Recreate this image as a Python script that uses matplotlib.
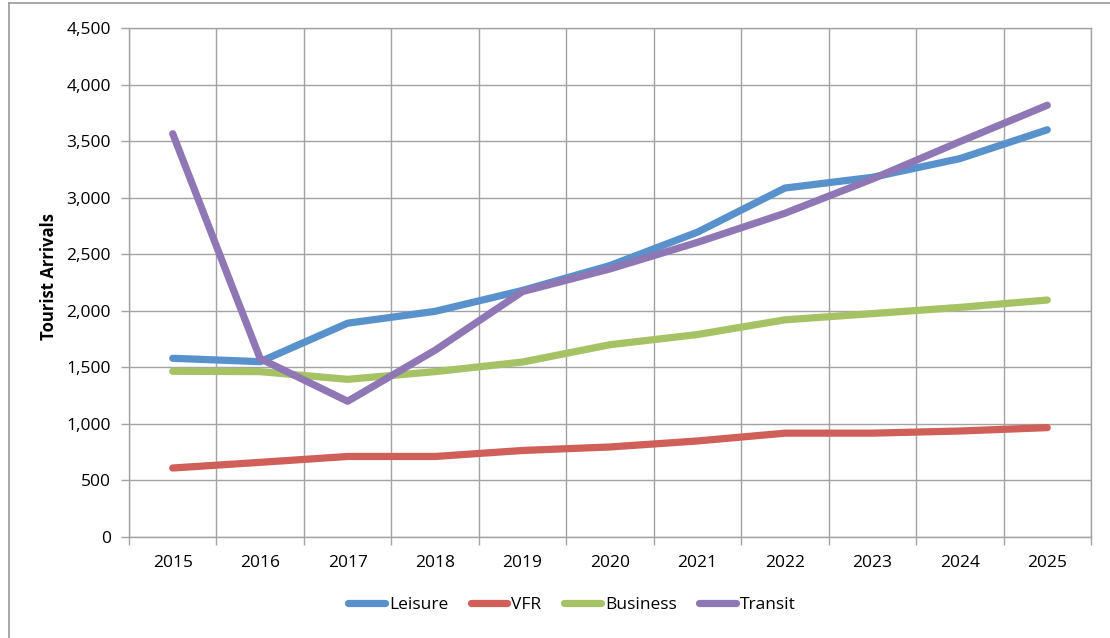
import matplotlib
matplotlib.use("Agg")
import matplotlib.pyplot as plt
from matplotlib.lines import Line2D
from matplotlib.ticker import FuncFormatter, MultipleLocator, FixedLocator

years = ["2015", "2016", "2017", "2018", "2019", "2020", "2021", "2022", "2023", "2024", "2025"]
leisure = [1580, 1550, 1890, 1995, 2180, 2400, 2695, 3085, 3180, 3345, 3600]
vfr = [610, 660, 712, 712, 765, 796, 849, 918, 918, 937, 967]
business = [1465, 1462, 1394, 1462, 1547, 1700, 1790, 1920, 1975, 2030, 2095]
transit = [3565, 1577, 1200, 1651, 2170, 2370, 2605, 2862, 3165, 3495, 3817]

series_names = ["Leisure", "VFR", "Business", "Transit"]
colors = ["#5891CB", "#CF5F58", "#A5C264", "#8F77B5"]

plt.rcParams['font.family'] = ['Open Sans', 'DejaVu Sans']
FS = 12.5

fig = plt.figure(figsize=(11.1, 6.38), dpi=100)
ax = fig.add_axes([129/1110, 1 - 537/638, (1091-129)/1110, (537-28)/638])

x = list(range(len(years)))
for name, vals, c in zip(series_names, [leisure, vfr, business, transit], colors):
    ax.plot(x, vals, color=c, lw=5.2, solid_capstyle='round', solid_joinstyle='round', label=name)

grid_c = "#A3A3A3"
ax.set_xlim(-0.5, len(years) - 0.5)
ax.set_ylim(0, 4500)
ax.yaxis.set_major_locator(MultipleLocator(500))
ax.yaxis.set_major_formatter(FuncFormatter(lambda v, p: f"{int(v):,}"))
ax.set_xticks(x)
ax.set_xticklabels(years)
ax.xaxis.set_minor_locator(FixedLocator([i - 0.5 for i in range(len(years) + 1)]))
ax.tick_params(axis='x', which='major', length=0, pad=13, labelsize=FS)
ax.tick_params(axis='x', which='minor', length=6, width=1, color=grid_c, direction='out')
ax.tick_params(axis='y', which='major', length=6, width=1, color=grid_c, pad=7, labelsize=FS)
ax.grid(True, axis='y', which='major', color=grid_c, lw=1)
ax.grid(True, axis='x', which='minor', color=grid_c, lw=1)
ax.grid(False, axis='x', which='major')
for s in ax.spines.values():
    s.set_color(grid_c)
    s.set_linewidth(1)

ax.set_ylabel("Tourist Arrivals", fontsize=12, fontweight='bold')
ax.yaxis.label.set_va('center')
ax.yaxis.set_label_coords((49 - 129) / 962, (537 - 277) / 509)

leg = fig.legend(loc='center', bbox_to_anchor=(572/1110, 1 - 605/638), ncol=4, frameon=False,
                 fontsize=FS, handlelength=2.1, handletextpad=0.25, columnspacing=1.3)

# outer chart border (left and top visible)
fig.add_artist(Line2D([8.5/1110, 8.5/1110], [0, 1 - 2.5/638], transform=fig.transFigure, color="#9A9A9A", lw=1.2))
fig.add_artist(Line2D([8.5/1110, 1], [1 - 2.5/638, 1 - 2.5/638], transform=fig.transFigure, color="#9A9A9A", lw=1.2))

fig.savefig("out.png", dpi=100)
